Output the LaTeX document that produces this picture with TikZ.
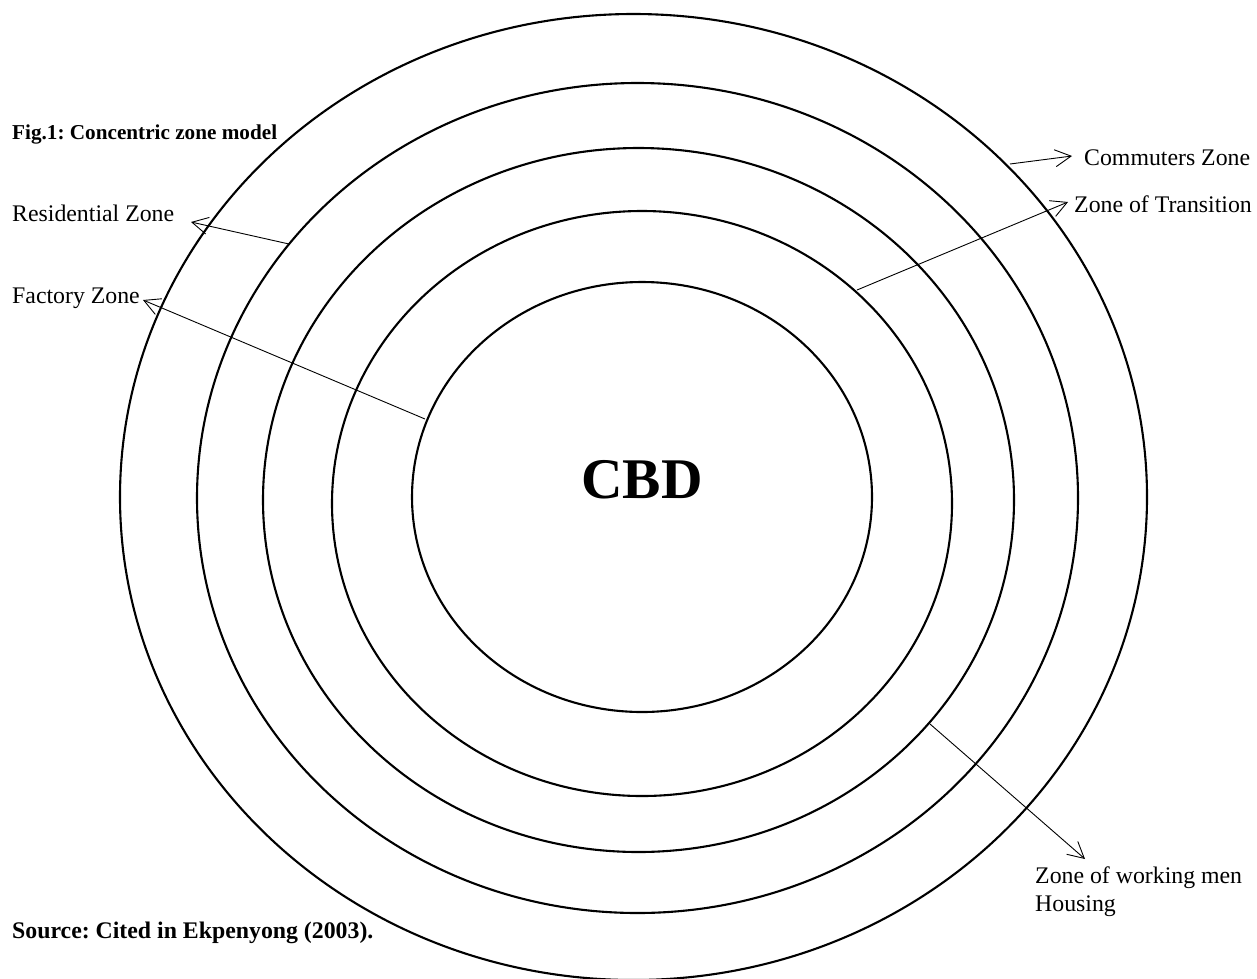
\documentclass[tikz,border=0pt]{standalone}
\usepackage{fontspec}
\setmainfont{Liberation Serif}
\usetikzlibrary{arrows.meta}
\frenchspacing
\begin{document}
\begin{tikzpicture}[x=1pt,y=-1pt,
  zone/.style={line width=2.1pt},
  pointer/.style={line width=0.9pt,-{Straight Barb[length=16pt,width=17pt,line width=0.9pt]}},
  lbl/.style={inner sep=0pt,anchor=base west,font=\fontsize{23.8}{28}\selectfont},
  boldlbl/.style={inner sep=0pt,anchor=base west,font=\fontsize{23.8}{28}\selectfont\bfseries}]
\useasboundingbox (0,0) rectangle (1257,978);
% concentric zones
\draw[zone] (633.5,497) ellipse [x radius=513.5, y radius=483];
\draw[zone] (637.5,498) ellipse [x radius=440.5, y radius=415];
\draw[zone] (638.5,500) ellipse [x radius=375.5, y radius=352];
\draw[zone] (642,503.5) ellipse [x radius=310, y radius=292.5];
\draw[zone] (642,497) ellipse [x radius=230, y radius=215];
% CBD
\node[inner sep=0pt,anchor=base,font=\fontsize{57.5}{60}\selectfont\bfseries] (cbd) at (642,498) {CBD};
% labels
\node[inner sep=0pt,anchor=base west,font=\fontsize{21.2}{25}\selectfont\bfseries] (fig) at (12,139) {Fig.1: Concentric zone model};
\node[lbl] (res) at (12,221) {Residential Zone};
\node[lbl] (fac) at (12,303) {Factory Zone};
\node[lbl] (com) at (1084,165) {Commuters Zone};
\node[lbl] (tra) at (1074,212) {Zone of Transition};
\node[lbl] (wor) at (1035,883) {Zone of working men};
\node[lbl] (hou) at (1035,911) {Housing};
\node[boldlbl] (src) at (12,938) {Source: Cited in Ekpenyong (2003).};
% connector end points
\coordinate (resS) at (289,244);
\coordinate (resT) at (191,222);
\coordinate (facS) at (425,419);
\coordinate (facT) at (143,300);
\coordinate (comS) at (1010,164);
\coordinate (comT) at (1072,156);
\coordinate (traS) at (857,290);
\coordinate (traT) at (1068,202);
\coordinate (worS) at (930,724);
\coordinate (worT) at (1085,859);
% connectors
\draw[pointer] (resS) -- (resT);
\draw[pointer] (facS) -- (facT);
\draw[pointer] (comS) -- (comT);
\draw[pointer] (traS) -- (traT);
\draw[pointer] (worS) -- (worT);
\end{tikzpicture}
\end{document}
